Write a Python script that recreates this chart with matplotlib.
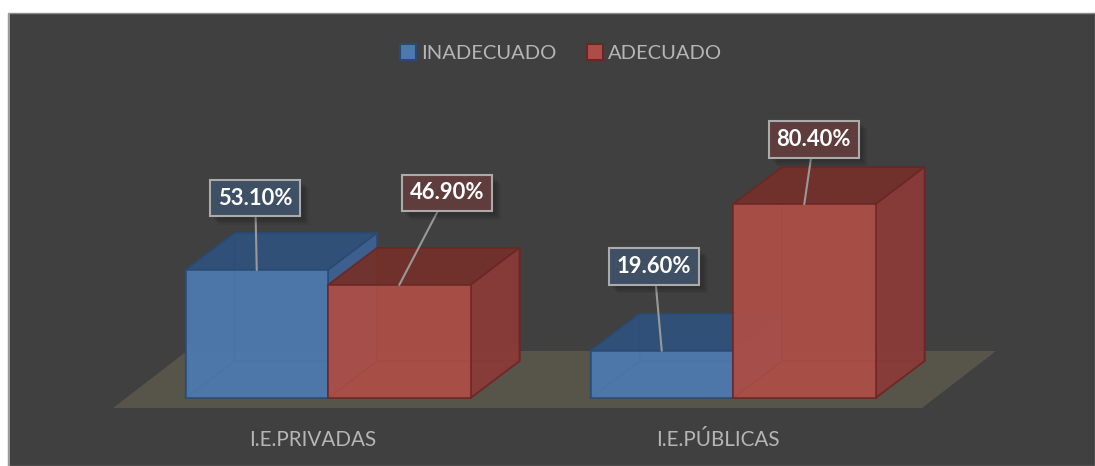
import matplotlib
matplotlib.use("Agg")
import matplotlib.pyplot as plt
import matplotlib.patheffects as pe
from matplotlib.patches import Polygon, Rectangle, Patch

# --- data ---
categories = ["I.E.PRIVADAS", "I.E.PÚBLICAS"]
series_names = ["INADECUADO", "ADECUADO"]
inadecuado = [53.1, 19.6]
adecuado = [46.9, 80.4]

W, H = 1095, 466
plt.rcParams['font.family'] = ['Lato', 'DejaVu Sans']

# pixel layout of the plot
left_px, top_px, base_px = 8, 13, 398
px_per_cat = 405.0   # distance between the two groups
px_per_pct = 2.41
cat0_px = 312.5      # the labels sit a bit left of the front of the bars

bar_w = 142.5 / px_per_cat
shift = 15.5 / px_per_cat
depth_x = 49 / px_per_cat
depth_y = 37 / px_per_pct

BG = '#404040'
FLOOR = '#575449'
BLUE = dict(front='#4d79ae', top='#2f4f78', side='#3c6090', edge='#2a4a75')
RED = dict(front='#ac4e47', top='#70302c', side='#883b38', edge='#6b2724')

fig = plt.figure(figsize=(W / 100, H / 100), dpi=100, facecolor='white')
fig.add_artist(Rectangle((left_px / W, 0), (W - left_px) / W, (H - top_px) / H,
                         transform=fig.transFigure, facecolor=BG,
                         edgecolor='#8c8c8c', linewidth=1, zorder=-2))
fig.add_artist(Rectangle((left_px / W, 0), 2 / W, (H - top_px) / H,
                         transform=fig.transFigure, facecolor='#9a9a9a',
                         edgecolor='none', zorder=-1))

ax = fig.add_axes([left_px / W, (H - base_px) / H, (W - left_px) / W, (base_px - top_px) / H])
ax.patch.set_alpha(0)
ax.set_xlim((left_px - cat0_px) / px_per_cat, (W - cat0_px) / px_per_cat)
ax.set_ylim(0, (base_px - top_px) / px_per_pct)
for s in ax.spines.values():
    s.set_visible(False)
ax.set_yticks([])
ax.set_xticks(range(len(categories)))
ax.set_xticklabels(categories, fontsize=14.9, color='#b5b5b5')
ax.tick_params(axis='x', length=0, pad=23)

# --- floor ---
floor_front = -10 / px_per_pct
floor_back = 47 / px_per_pct
floor_l = (113 - cat0_px) / px_per_cat
floor_r = (922 - cat0_px) / px_per_cat
floor_dx = 74 / px_per_cat
ax.add_patch(Polygon([(floor_l, floor_front), (floor_r, floor_front),
                      (floor_r + floor_dx, floor_back), (floor_l + floor_dx, floor_back)],
                     closed=True, facecolor=FLOOR, edgecolor='none', clip_on=False, zorder=1))


def draw_box(x0, h, c, z):
    x1 = x0 + bar_w
    kw = dict(closed=True, edgecolor=c['edge'], linewidth=1.2, clip_on=False, joinstyle='round')
    # hidden faces first, they show through the front
    ax.add_patch(Polygon([(x0, 0), (x1, 0), (x1 + depth_x, depth_y), (x0 + depth_x, depth_y)],
                         facecolor=c['front'], alpha=0.55, zorder=z, **kw))
    ax.add_patch(Polygon([(x0, 0), (x0 + depth_x, depth_y), (x0 + depth_x, h + depth_y), (x0, h)],
                         facecolor=c['front'], alpha=0.55, zorder=z, **kw))
    ax.add_patch(Polygon([(x0 + depth_x, depth_y), (x1 + depth_x, depth_y),
                          (x1 + depth_x, h + depth_y), (x0 + depth_x, h + depth_y)],
                         facecolor=c['front'], alpha=0.55, zorder=z, **kw))
    ax.add_patch(Polygon([(x0, h), (x1, h), (x1 + depth_x, h + depth_y), (x0 + depth_x, h + depth_y)],
                         facecolor=c['top'], alpha=0.92, zorder=z + 0.1, **kw))
    ax.add_patch(Polygon([(x1, 0), (x1 + depth_x, depth_y), (x1 + depth_x, h + depth_y), (x1, h)],
                         facecolor=c['side'], alpha=0.92, zorder=z + 0.1, **kw))
    ax.add_patch(Rectangle((x0, 0), bar_w, h, facecolor=c['front'], alpha=0.89,
                           edgecolor=c['edge'], linewidth=1.2, clip_on=False, zorder=z + 0.2))


z = 2
for i in range(len(categories)):
    draw_box(i + shift - bar_w, inadecuado[i], BLUE, z)
    draw_box(i + shift, adecuado[i], RED, z + 1)
    z += 2

# --- data labels ---
blue_offsets = [(-1.5, 72), (-7.5, 84)]
red_offsets = [(48, 92), (9.5, 65)]


def add_label(x, v, off, face):
    t = ax.annotate(f"{v:.2f}%", xy=(x, v), xytext=off, textcoords='offset pixels',
                    ha='center', va='center', fontsize=15.8, fontweight='bold', color='white',
                    annotation_clip=False, zorder=20,
                    bbox=dict(boxstyle='square,pad=0.36', facecolor=face,
                              edgecolor='#ababab', linewidth=1.5),
                    arrowprops=dict(arrowstyle='-', color='#999999', linewidth=1.5,
                                    shrinkA=0, shrinkB=0))
    shadow = [pe.SimplePatchShadow(offset=(2 + k, -2 - k), shadow_rgbFace='black', alpha=0.05)
              for k in range(5)]
    t.get_bbox_patch().set_path_effects(shadow + [pe.Normal()])


for i in range(len(categories)):
    add_label(i + shift - bar_w / 2, inadecuado[i], blue_offsets[i], '#3f4f64')
    add_label(i + shift + bar_w / 2, adecuado[i], red_offsets[i], '#5f3d3d')

# --- legend ---
handles = [Patch(facecolor=BLUE['front'], edgecolor=BLUE['edge'], linewidth=1.5, label=series_names[0]),
           Patch(facecolor=RED['front'], edgecolor=RED['edge'], linewidth=1.5, label=series_names[1])]
leg = fig.legend(handles=handles, ncols=2, loc='center', bbox_to_anchor=(561 / W, 1 - 53 / H),
                 frameon=False, fontsize=14.5, labelcolor='#b5b5b5',
                 handlelength=0.8, handleheight=0.8, handletextpad=0.25, columnspacing=1.5)

fig.savefig('out.png', dpi=100, facecolor=fig.get_facecolor())
